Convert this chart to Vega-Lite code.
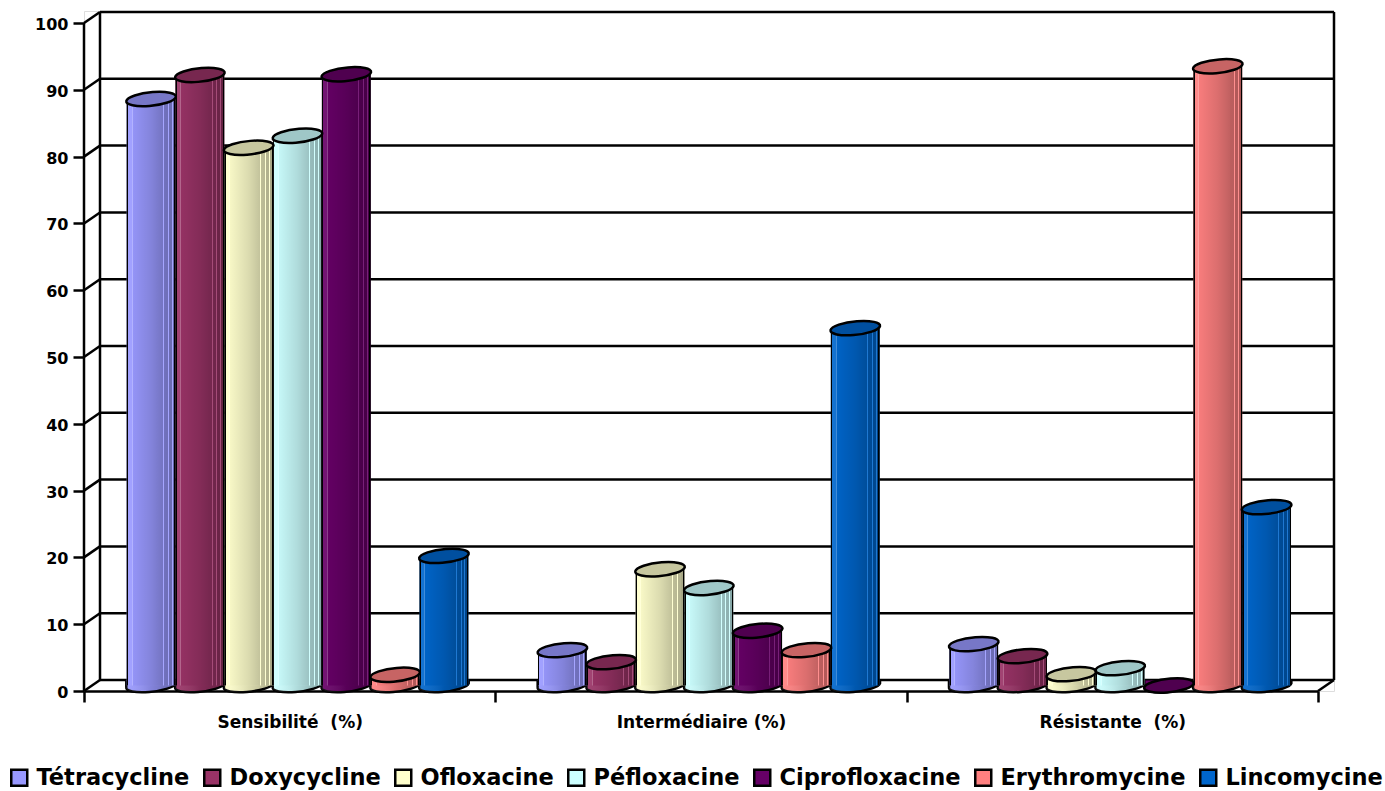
{"$schema":"https://vega.github.io/schema/vega-lite/v6.json","width":1250,"height":680,"autosize":"none","padding":{"left":84,"top":11,"right":51,"bottom":100},"background":"white",
"datasets":{"frame":[
{"x":0.0389,"x2":3.0389,"y":1.647,"y2":1.647},{"x":0.0389,"x2":3.0389,"y":11.647,"y2":11.647},{"x":0.0389,"x2":3.0389,"y":21.647,"y2":21.647},{"x":0.0389,"x2":3.0389,"y":31.647,"y2":31.647},{"x":0.0389,"x2":3.0389,"y":41.647,"y2":41.647},{"x":0.0389,"x2":3.0389,"y":51.647,"y2":51.647},{"x":0.0389,"x2":3.0389,"y":61.647,"y2":61.647},{"x":0.0389,"x2":3.0389,"y":71.647,"y2":71.647},{"x":0.0389,"x2":3.0389,"y":81.647,"y2":81.647},{"x":0.0389,"x2":3.0389,"y":91.647,"y2":91.647},{"x":0.0389,"x2":3.0389,"y":101.647,"y2":101.647},
{"x":0,"x2":0.0389,"y":0,"y2":1.647},{"x":0,"x2":0.0389,"y":10,"y2":11.647},{"x":0,"x2":0.0389,"y":20,"y2":21.647},{"x":0,"x2":0.0389,"y":30,"y2":31.647},{"x":0,"x2":0.0389,"y":40,"y2":41.647},{"x":0,"x2":0.0389,"y":50,"y2":51.647},{"x":0,"x2":0.0389,"y":60,"y2":61.647},{"x":0,"x2":0.0389,"y":70,"y2":71.647},{"x":0,"x2":0.0389,"y":80,"y2":81.647},{"x":0,"x2":0.0389,"y":90,"y2":91.647},{"x":0,"x2":0.0389,"y":100,"y2":101.647},
{"x":0,"x2":0,"y":0,"y2":100},{"x":0.0389,"x2":0.0389,"y":1.647,"y2":101.647},{"x":3.0389,"x2":3.0389,"y":1.647,"y2":101.647},{"x":3,"x2":3.0389,"y":0,"y2":1.647}],
"bars":[
{"c":"Sensibilité  (%)","d":"Tétracycline","v":87.8},{"c":"Sensibilité  (%)","d":"Doxycycline","v":91.4},{"c":"Sensibilité  (%)","d":"Ofloxacine","v":80.5},{"c":"Sensibilité  (%)","d":"Péfloxacine","v":82.3},{"c":"Sensibilité  (%)","d":"Ciprofloxacine","v":91.5},{"c":"Sensibilité  (%)","d":"Erythromycine","v":1.6},{"c":"Sensibilité  (%)","d":"Lincomycine","v":19.4},
{"c":"Intermédiaire (%)","d":"Tétracycline","v":5.3},{"c":"Intermédiaire (%)","d":"Doxycycline","v":3.5},{"c":"Intermédiaire (%)","d":"Ofloxacine","v":17.4},{"c":"Intermédiaire (%)","d":"Péfloxacine","v":14.6},{"c":"Intermédiaire (%)","d":"Ciprofloxacine","v":8.2},{"c":"Intermédiaire (%)","d":"Erythromycine","v":5.3},{"c":"Intermédiaire (%)","d":"Lincomycine","v":53.5},
{"c":"Résistante  (%)","d":"Tétracycline","v":6.2},{"c":"Résistante  (%)","d":"Doxycycline","v":4.4},{"c":"Résistante  (%)","d":"Ofloxacine","v":1.7},{"c":"Résistante  (%)","d":"Péfloxacine","v":2.6},{"c":"Résistante  (%)","d":"Ciprofloxacine","v":0},{"c":"Résistante  (%)","d":"Erythromycine","v":92.7},{"c":"Résistante  (%)","d":"Lincomycine","v":26.7}]},
"resolve":{"scale":{"x":"independent"}},
"layer":[
{"data":{"name":"frame"},"mark":{"type":"rule","color":"black","strokeWidth":2.5},
"encoding":{"x":{"field":"x","type":"quantitative","scale":{"domain":[0,3.0389],"range":[0,1250],"nice":false,"zero":false},"axis":null},"x2":{"field":"x2"},
"y":{"field":"y","type":"quantitative","title":null,"scale":{"domain":[0,101.8],"nice":false},"axis":{"values":[0,10,20,30,40,50,60,70,80,90,100],"domain":false,"grid":false,"tickColor":"black","tickWidth":2.5,"tickSize":11,"labelFont":"DejaVu Sans","labelFontWeight":"bold","labelFontSize":16,"labelColor":"black","labelPadding":5,"labelOffset":1.5}},"y2":{"field":"y2"}}},
{"data":{"name":"bars"},
"encoding":{"x":{"field":"c","type":"nominal","title":null,"sort":null,"scale":{"range":[0,1234],"padding":0},"axis":{"tickBand":"extent","labelAngle":0,"labelExpr":"replace(datum.label,'  ',' \u00a0')","domainColor":"black","domainWidth":2.5,"tickColor":"black","tickWidth":2.5,"tickSize":11,"labelFont":"DejaVu Sans","labelFontWeight":"bold","labelFontSize":17,"labelColor":"black","labelPadding":12}},
"xOffset":{"field":"d","type":"nominal","sort":null,"scale":{"domain":["Tétracycline","Doxycycline","Ofloxacine","Péfloxacine","Ciprofloxacine","Erythromycine","Lincomycine"],"range":[8,419],"paddingInner":0,"paddingOuter":0.71}},
"y":{"field":"v","type":"quantitative"}},
"layer":[
{"mark":{"type":"point","filled":true,"opacity":1,"size":2450,"shape":"M-1,-0.2 L-1,0.08 A1,0.25 -6 0,0 1,-0.08 L1,-0.2","stroke":"black","strokeWidth":2.5,"yOffset":-5.5},
"encoding":{"y":{"datum":0},"color":{"field":"d","type":"nominal","sort":null,"scale":{"domain":["Tétracycline","Doxycycline","Ofloxacine","Péfloxacine","Ciprofloxacine","Erythromycine","Lincomycine"],"range":["#9999FF","#993366","#FFFFCC","#CCFFFF","#660066","#FF8080","#0066CC"]},
"legend":{"title":null,"orient":"none","legendX":-76,"legendY":755,"direction":"horizontal","columns":7,"columnPadding":9,"symbolType":"square","symbolSize":256,"symbolStrokeColor":"black","symbolStrokeWidth":2.5,"symbolOpacity":1,"labelFont":"DejaVu Sans","labelFontWeight":"bold","labelFontSize":22.5,"labelColor":"black","labelOffset":6,"labelLimit":300}}}},
{"mark":{"type":"bar","yOffset":-5.5,"y2Offset":-5.5,"opacity":1},"encoding":{"y2":{"datum":0},"color":{"field":"d","type":"nominal","sort":null}}},
{"mark":{"type":"bar","yOffset":-5.5,"y2Offset":-5.5,"fill":{"gradient":"linear","x1":0,"x2":1,"y1":0,"y2":0,"stops":[{"offset":0,"color":"#000000"},{"offset":0.028,"color":"#000000"},{"offset":0.028,"color":"rgba(255,255,255,0.08)"},{"offset":0.1,"color":"rgba(255,255,255,0.08)"},{"offset":0.1,"color":"rgba(255,255,255,0.25)"},{"offset":0.12,"color":"rgba(255,255,255,0.25)"},{"offset":0.12,"color":"rgba(0,0,0,0.03)"},{"offset":0.5,"color":"rgba(0,0,0,0.14)"},{"offset":0.74,"color":"rgba(0,0,0,0.24)"},{"offset":0.74,"color":"rgba(255,255,255,0.12)"},{"offset":0.76,"color":"rgba(255,255,255,0.12)"},{"offset":0.76,"color":"rgba(0,0,0,0.26)"},{"offset":0.84,"color":"rgba(0,0,0,0.28)"},{"offset":0.84,"color":"rgba(255,255,255,0.12)"},{"offset":0.86,"color":"rgba(255,255,255,0.12)"},{"offset":0.86,"color":"rgba(0,0,0,0.3)"},{"offset":0.92,"color":"rgba(0,0,0,0.3)"},{"offset":0.92,"color":"rgba(255,255,255,0.12)"},{"offset":0.94,"color":"rgba(255,255,255,0.12)"},{"offset":0.94,"color":"rgba(0,0,0,0.34)"},{"offset":0.972,"color":"rgba(0,0,0,0.34)"},{"offset":0.972,"color":"#000000"},{"offset":1,"color":"#000000"}]}},"encoding":{"y2":{"datum":0}}},
{"mark":{"type":"point","filled":true,"opacity":1,"size":2450,"shape":"M-1,0 L-1,0.08 A1,0.25 -6 0,0 1,-0.08 L1,0","fill":{"gradient":"linear","x1":0,"x2":1,"y1":0,"y2":0,"stops":[{"offset":0,"color":"rgba(255,255,255,0.08)"},{"offset":0.5,"color":"rgba(0,0,0,0.14)"},{"offset":1,"color":"rgba(0,0,0,0.34)"}]},"yOffset":-5.5},"encoding":{"y":{"datum":0}}},
{"mark":{"type":"point","filled":true,"opacity":1,"size":2450,"shape":"M-1,0.08 A1,0.27 -6 1,1 1,-0.08 A1,0.27 -6 1,1 -1,0.08 Z","yOffset":-5.5},"encoding":{"color":{"field":"d","type":"nominal","sort":null}}},
{"mark":{"type":"point","filled":true,"opacity":1,"size":2450,"shape":"M-1,0.08 A1,0.27 -6 1,1 1,-0.08 A1,0.27 -6 1,1 -1,0.08 Z","fill":"rgba(0,0,0,0.22)","stroke":"black","strokeWidth":2.5,"yOffset":-5.5}}
]}
]}
